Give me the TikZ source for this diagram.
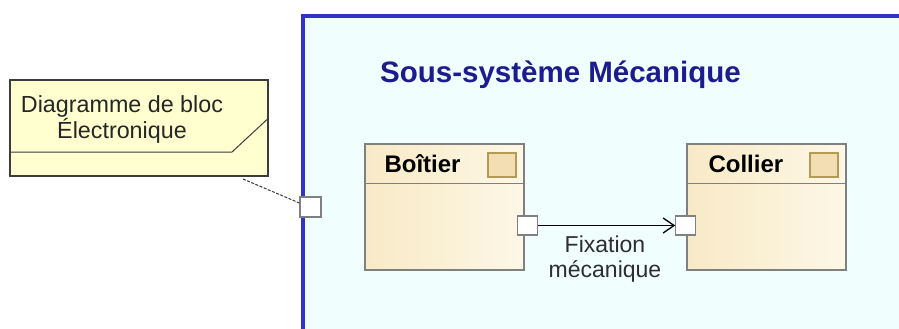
\documentclass[tikz,border=0pt]{standalone}
\usepackage{fontspec}
\setmainfont{Liberation Sans}
\usetikzlibrary{arrows.meta,calc,positioning}
\definecolor{FrameBlue}{HTML}{3232CA}
\definecolor{FrameFill}{HTML}{F0FEFE}
\definecolor{TitleNavy}{HTML}{1C1C8E}
\definecolor{NoteFill}{HTML}{FFFFCF}
\definecolor{NoteLine}{HTML}{3C3C3C}
\definecolor{CreamL}{HTML}{F8EAC6}
\definecolor{CreamR}{HTML}{FDF7E6}
\definecolor{Edge}{HTML}{808080}
\definecolor{IconFill}{HTML}{F3DEB4}
\definecolor{IconLine}{HTML}{B39B55}
\definecolor{Ink}{HTML}{2E2E2E}

\begin{document}
\begin{tikzpicture}[x=1pt,y=-1pt,>={Straight Barb[length=11pt,width=15pt]},
  block/.style={draw=Edge,line width=1.3pt,left color=CreamL,right color=CreamR,minimum width=159pt,minimum height=126pt,inner sep=0pt},
  icon/.style={draw=IconLine,line width=1.2pt,fill=IconFill,minimum width=28pt,minimum height=24pt,inner sep=0pt},
  port/.style={draw=Edge,line width=1.2pt,fill=white,minimum width=20pt,minimum height=19pt,inner sep=0pt},
  blocktitle/.style={font=\fontsize{24}{28}\selectfont\bfseries,anchor=base west,inner sep=0pt}]
        \clip (0,0) rectangle (899,329);
        \fill[white] (0,0) rectangle (899,329);
        % frame of the sub-system
        \draw[FrameBlue,line width=4pt,fill=FrameFill] (302.5,16) rectangle (940,360);
        \node[TitleNavy,font=\fontsize{29.5}{34}\selectfont\bfseries,anchor=base,inner sep=0pt] (title) at (560.5,82) {Sous-système Mécanique};
        % note
        \node[draw=NoteLine,line width=1.3pt,fill=NoteFill,minimum width=258pt,minimum height=96pt,inner sep=0pt] (note) at (139,128) {};
        \draw[NoteLine,line width=1pt] ($(note.west)+(0,24)$) -- (232,152) -- ($(note.east)+(0,-10)$);
        \node[text=black!85,align=center,font=\fontsize{23.3}{26}\selectfont,inner sep=0pt] (notetext) at (122,119) {Diagramme de bloc\\Électronique};
        \node[port,minimum width=21pt,minimum height=20pt] (frameport) at (310.5,207) {};
        \coordinate (notetail) at (243,179);
        \draw[NoteLine,line width=1pt,dash pattern=on 3pt off 1.5pt] (notetail) -- ($(frameport.west)+(0,-4)$);
        % blocks
        \node[block] (boitier) at (444.5,207) {};
        \node[block] (collier) at (766.5,207) {};
        \foreach \b in {boitier,collier}{
          \draw[Edge,line width=1.3pt] ($(\b.north west)+(0,40)$) -- ($(\b.north east)+(0,40)$);
          \node[icon,anchor=north east] (\b-icon) at ($(\b.north east)+(-8,9)$) {};}
        \node[blocktitle] (boitierlbl) at ($(boitier.north west)+(20,29)$) {Boîtier};
        \node[blocktitle] (collierlbl) at ($(collier.north west)+(22,29)$) {Collier};
        \node[port] (boitierport) at ($(boitier.east)+(3,18.5)$) {};
        \node[port] (collierport) at ($(collier.west)+(-0.5,18.5)$) {};
        \draw[->,line width=1.3pt] (boitierport) -- (collierport);
        \node[Ink,align=center,font=\fontsize{23}{25}\selectfont,inner sep=0pt] (fixlabel) at (605,259) {Fixation\\mécanique};
      \end{tikzpicture}
\end{document}
